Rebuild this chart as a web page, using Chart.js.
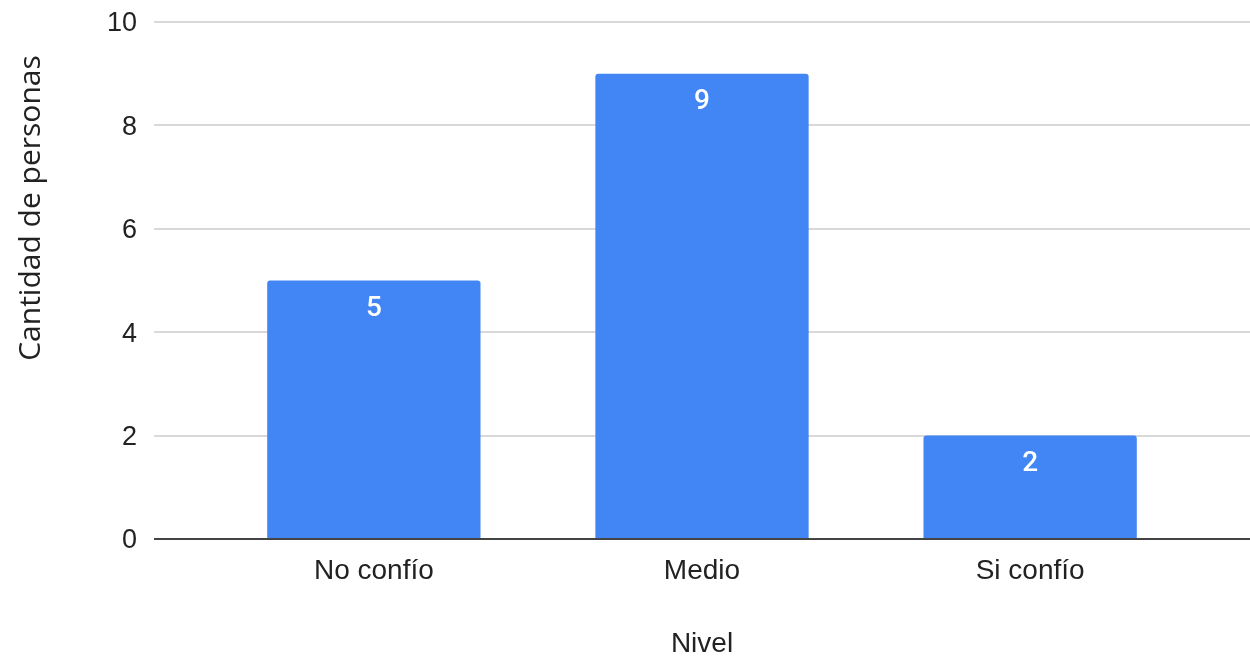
<!DOCTYPE html>
<html>
<head>
<meta charset="utf-8">
<title>Nivel de confianza</title>
<script src="https://cdn.jsdelivr.net/npm/chart.js@4.4.0/dist/chart.umd.min.js"></script>
<style>
    html, body { margin: 0; padding: 0; background: #fff; }
    canvas { display: block; }
</style>
</head>
<body>
<canvas id="nivelChart" width="1250" height="658"></canvas>
<script>
const categories = ['No confío', 'Medio', 'Si confío'];
const personas = [5, 9, 2];
const yTicks = [0, 2, 4, 6, 8, 10];

const yTitle = 'Cantidad de personas';
const xTitle = 'Nivel';

// values written inside the top of each bar
const barLabels = {
    id: 'barLabels',
    afterDatasetsDraw(chart) {
        const ctx = chart.ctx;
        const meta = chart.getDatasetMeta(0);
        ctx.save();
        ctx.fillStyle = '#ffffff';
        ctx.font = '500 28px Roboto';
        ctx.textAlign = 'center';
        ctx.textBaseline = 'middle';
        meta.data.forEach((bar, i) => {
            ctx.fillText(String(personas[i]), bar.x, bar.y + 28);
        });
        ctx.restore();
    }
};

// vertical axis title, sits a bit above the middle of the axis
const yAxisTitle = {
    id: 'yAxisTitle',
    afterDraw(chart) {
        const ctx = chart.ctx;
        ctx.save();
        ctx.translate(31, 208);
        ctx.rotate(-Math.PI / 2);
        ctx.font = '30px "Open Sans"';
        ctx.fillStyle = '#222';
        ctx.textAlign = 'center';
        ctx.textBaseline = 'middle';
        ctx.fillText(yTitle, 0, 0);
        ctx.restore();
    }
};

const ctx = document.getElementById('nivelChart').getContext('2d');

new Chart(ctx, {
    type: 'bar',
    data: {
        datasets: [{
            data: personas.map((v, i) => ({ x: i + 1, y: v })),
            backgroundColor: '#4285f4',
            borderRadius: { topLeft: 3, topRight: 3, bottomLeft: 0, bottomRight: 0 },
            borderSkipped: false,
            barPercentage: 0.65,
            categoryPercentage: 1
        }]
    },
    options: {
        responsive: false,
        animation: false,
        layout: { padding: { top: 22, right: 0, left: 0, bottom: 0 } },
        plugins: {
            legend: { display: false },
            tooltip: { enabled: false }
        },
        scales: {
            x: {
                type: 'linear',
                min: 0.33,
                max: 3.67,
                offset: false,
                afterBuildTicks(scale) {
                    scale.ticks = categories.map((c, i) => ({ value: i + 1 }));
                },
                afterFit(scale) { scale.height = 119; },
                grid: { display: false, drawTicks: false, offset: false },
                border: { display: false },
                ticks: {
                    padding: 15,
                    color: '#222',
                    font: { family: 'Liberation Sans, Arial', size: 28 },
                    callback: (v) => categories[v - 1]
                },
                title: {
                    display: true,
                    text: xTitle,
                    color: '#222',
                    padding: { top: 0, bottom: 0 },
                    font: { family: 'Liberation Sans, Arial', size: 28, lineHeight: 1 }
                }
            },
            y: {
                min: 0,
                max: 10,
                afterBuildTicks(scale) {
                    scale.ticks = yTicks.map(v => ({ value: v }));
                },
                afterFit(scale) {
                    scale.width = 154;
                    scale.paddingTop = 0;
                    scale.paddingBottom = 0;
                },
                grid: {
                    drawTicks: false,
                    lineWidth: 2,
                    color: (c) => c.tick && c.tick.value === 0 ? '#444444' : '#d9d9d9'
                },
                border: { display: false },
                ticks: {
                    padding: 17,
                    labelOffset: 2,
                    color: '#222',
                    font: { family: 'Liberation Sans, Arial', size: 27 }
                }
            }
        }
    },
    plugins: [barLabels, yAxisTitle]
});
</script>
</body>
</html>
